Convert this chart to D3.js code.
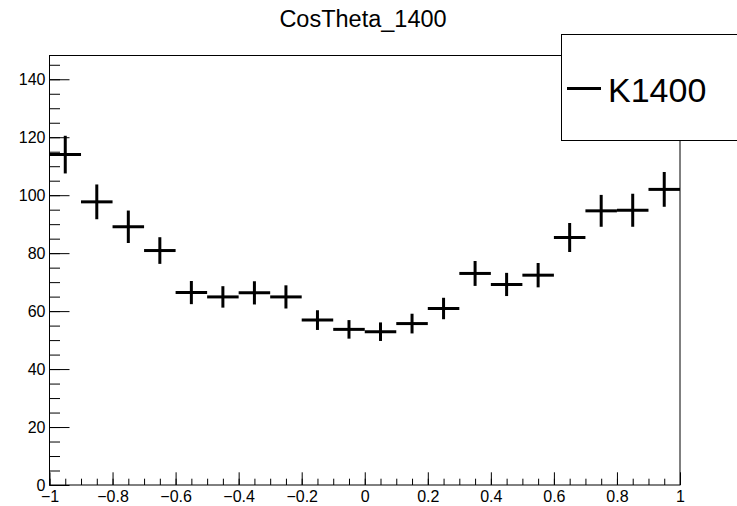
<!DOCTYPE html>
<html>
<head>
<meta charset="utf-8">
<script src="https://cdn.jsdelivr.net/npm/d3@7"></script>
<style>
  body { margin: 0; background: #fff; }
  svg { display: block; font-family: "Liberation Sans", Arial, sans-serif; }
</style>
</head>
<body>
<svg width="737" height="506"></svg>
<script>
// histogram bins (centres, width 0.1)
const binCenters = [-0.95, -0.85, -0.75, -0.65, -0.55, -0.45, -0.35, -0.25, -0.15, -0.05,
                    0.05, 0.15, 0.25, 0.35, 0.45, 0.55, 0.65, 0.75, 0.85, 0.95];
const counts = [114.0, 97.7, 89.1, 80.9, 66.4, 64.9, 66.3, 64.9, 56.9, 53.7,
                52.9, 55.7, 60.9, 73.0, 69.2, 72.4, 85.4, 94.6, 94.8, 102.0];
const errors = [6.5, 6.0, 5.6, 4.6, 4.0, 3.7, 4.0, 4.0, 3.4, 3.2,
                3.2, 3.4, 3.7, 4.3, 4.0, 4.2, 5.0, 5.5, 5.7, 6.0];
const binWidth = 0.1;

const xTicks = [-1, -0.8, -0.6, -0.4, -0.2, 0, 0.2, 0.4, 0.6, 0.8, 1];
const yTicks = [0, 20, 40, 60, 80, 100, 120, 140];
const title = 'CosTheta_1400';
const legendLabel = 'K1400';

const svg = d3.select('svg');
const padL = 49.5, padR = 680, padT = 55.5, padB = 485;

const x = d3.scaleLinear().domain([-1, 1]).range([padL, padR]);
const y = d3.scaleLinear().domain([0, 148.2]).range([padB, padT]);

// minor ticks
const xMinor = d3.range(-1, 1.0001, 0.05).map(v => +v.toFixed(2));
const yMinor = d3.range(0, 148, 5);

svg.append('g')
    .attr('transform', `translate(0,${padB})`)
    .call(d3.axisBottom(x).tickValues(xMinor).tickSize(-6.3).tickFormat(''))
    .call(g => g.select('.domain').remove());
svg.append('g')
    .attr('transform', `translate(${padL},0)`)
    .call(d3.axisLeft(y).tickValues(yMinor).tickSize(-10.5).tickFormat(''))
    .call(g => g.select('.domain').remove());

// major ticks with labels
const xAxis = svg.append('g')
    .attr('transform', `translate(0,${padB})`)
    .call(d3.axisBottom(x).tickValues(xTicks).tickSize(-12.7).tickPadding(6)
        .tickFormat(d3.format('')));
xAxis.select('.domain').remove();
xAxis.selectAll('text').attr('font-size', 16).attr('fill', '#000')
    .attr('font-family', '"Liberation Sans", Arial, sans-serif');

const yAxis = svg.append('g')
    .attr('transform', `translate(${padL},0)`)
    .call(d3.axisLeft(y).tickValues(yTicks).tickSize(-20).tickPadding(4));
yAxis.select('.domain').remove();
yAxis.selectAll('text').attr('font-size', 16).attr('fill', '#000')
    .attr('font-family', '"Liberation Sans", Arial, sans-serif');

svg.selectAll('.tick line').attr('stroke', '#000');

// frame
svg.append('rect')
    .attr('x', padL).attr('y', padT)
    .attr('width', padR - padL).attr('height', padB - padT)
    .attr('fill', 'none').attr('stroke', '#000').attr('stroke-width', 1);

// data markers: horizontal bin width bar + vertical error bar
const pts = svg.append('g').selectAll('g')
    .data(binCenters.map((c, i) => ({c, v: counts[i], e: errors[i]})))
    .enter().append('g');

pts.append('line')
    .attr('x1', d => x(d.c - binWidth / 2))
    .attr('x2', d => x(d.c + binWidth / 2))
    .attr('y1', d => y(d.v)).attr('y2', d => y(d.v))
    .attr('stroke', '#000').attr('stroke-width', 3);
pts.append('line')
    .attr('x1', d => x(d.c)).attr('x2', d => x(d.c))
    .attr('y1', d => y(d.v + d.e)).attr('y2', d => y(d.v - d.e))
    .attr('stroke', '#000').attr('stroke-width', 3);

// title
svg.append('text')
    .attr('x', 363).attr('y', 26.5)
    .attr('text-anchor', 'middle')
    .attr('font-size', 23.5)
    .text(title);

// legend
svg.append('rect')
    .attr('x', 561.5).attr('y', 34.5)
    .attr('width', 180).attr('height', 106)
    .attr('fill', '#fff').attr('stroke', '#000').attr('stroke-width', 1);
svg.append('line')
    .attr('x1', 567).attr('x2', 601)
    .attr('y1', 88.5).attr('y2', 88.5)
    .attr('stroke', '#000').attr('stroke-width', 3);
svg.append('text')
    .attr('x', 608).attr('y', 101.5)
    .attr('font-size', 34)
    .text(legendLabel);
</script>
</body>
</html>
